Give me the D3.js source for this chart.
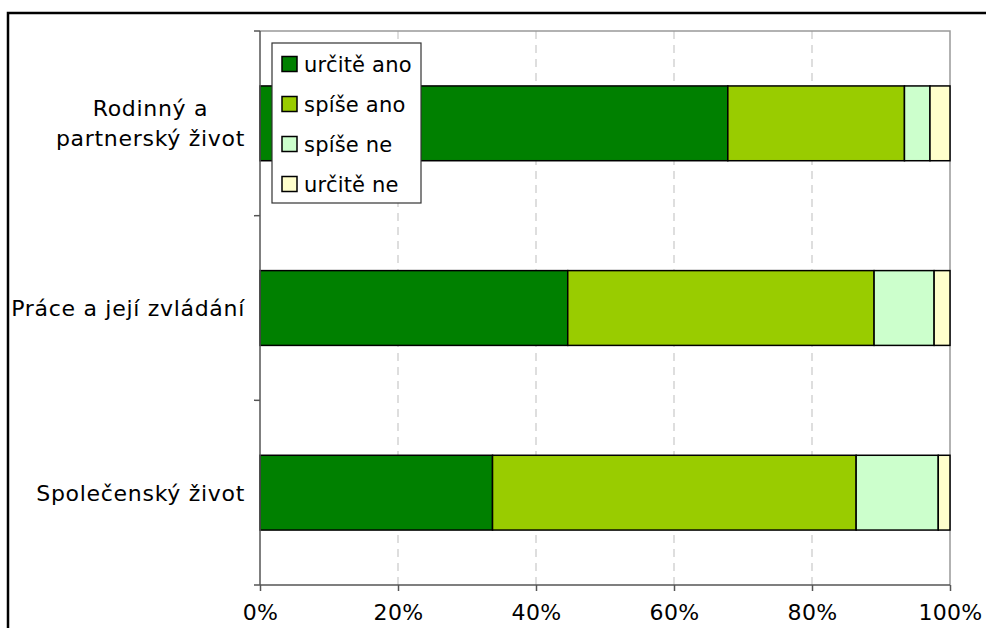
<!DOCTYPE html>
<html>
<head>
<meta charset="utf-8">
<script src="https://cdn.jsdelivr.net/npm/d3@7"></script>
<style>
  html, body { margin: 0; padding: 0; background: #fff; }
  svg { display: block; font-family: "DejaVu Sans", Verdana, sans-serif; }
</style>
</head>
<body>
<svg id="chart" width="986" height="628"></svg>
<script>
// ---- data ----
const categories = [["Rodinný a", "partnerský život"], ["Práce a její zvládání"], ["Společenský život"]];
const seriesNames = ["určitě ano", "spíše ano", "spíše ne", "určitě ne"];
const seriesColors = ["#008000", "#99CC00", "#CCFFCC", "#FFFFCC"];
const urciteAno = [67.8, 44.6, 33.7];
const spiseAno  = [25.6, 44.4, 52.7];
const spiseNe   = [3.7, 8.7, 11.9];
const urciteNe  = [2.9, 2.3, 1.7];
const xTicks = [0, 20, 40, 60, 80, 100];

const seriesValues = [urciteAno, spiseAno, spiseNe, urciteNe];

const svg = d3.select("#chart");
const m = { left: 260, top: 31, right: 950, bottom: 585 };

// frame
svg.append("rect").attr("x", 8).attr("y", 13).attr("width", 1100).attr("height", 800)
  .attr("fill", "none").attr("stroke", "#000").attr("stroke-width", 2.5);

const x = d3.scaleLinear().domain([0, 100]).range([m.left, m.right]);
const y = d3.scaleBand().domain(d3.range(categories.length)).range([m.top, m.bottom])
  .paddingInner(0.595).paddingOuter(0.2975);

// gridlines
svg.append("g").selectAll("line").data(xTicks.filter(t => t > 0 && t < 100)).join("line")
  .attr("x1", d => x(d)).attr("x2", d => x(d)).attr("y1", m.top).attr("y2", m.bottom)
  .attr("stroke", "#c8c8c8").attr("stroke-width", 1.2).attr("stroke-dasharray", "8,6");

// plot border top/right
svg.append("path")
  .attr("d", `M${m.left},${m.top}H${m.right}V${m.bottom}`)
  .attr("fill", "none").attr("stroke", "#999").attr("stroke-width", 1.5);

// stacked bars
const stackData = categories.map((c, i) => {
  const o = { i };
  seriesNames.forEach((s, k) => o[s] = seriesValues[k][i]);
  return o;
});
const stack = d3.stack().keys(seriesNames)(stackData);
stack.forEach((layer, k) => {
  svg.append("g").selectAll("rect").data(layer).join("rect")
    .attr("x", d => x(d[0])).attr("width", d => x(d[1]) - x(d[0]))
    .attr("y", d => y(d.data.i)).attr("height", y.bandwidth())
    .attr("fill", seriesColors[k]).attr("stroke", "#000").attr("stroke-width", 1.5);
});

// axes
const xAxis = d3.axisBottom(x).tickValues(xTicks).tickFormat(d => d + "%").tickSize(6).tickPadding(13);
const gx = svg.append("g").attr("transform", `translate(0,${m.bottom})`).call(xAxis);
gx.select(".domain").attr("stroke", "#555").attr("stroke-width", 1.5).attr("d", `M${m.left},0H${m.right}`);
gx.selectAll(".tick line").attr("stroke", "#555").attr("stroke-width", 1.5);
gx.selectAll(".tick text").attr("fill", "#000").style("font-size", "22px").style("letter-spacing", "0.3px")
  .style("font-family", '"DejaVu Sans", Verdana, sans-serif');

// y axis line + ticks at band boundaries
const yBounds = d3.range(categories.length + 1).map(i => m.top + i * (m.bottom - m.top) / categories.length);
svg.append("line").attr("x1", m.left).attr("x2", m.left).attr("y1", m.top).attr("y2", m.bottom)
  .attr("stroke", "#555").attr("stroke-width", 1.5);
svg.append("g").selectAll("line").data(yBounds).join("line")
  .attr("x1", m.left - 6).attr("x2", m.left).attr("y1", d => d).attr("y2", d => d)
  .attr("stroke", "#555").attr("stroke-width", 1.5);

// category labels
const labelRight = 245;
const lineH = 30;
categories.forEach((lines, i) => {
  const cy = y(i) + y.bandwidth() / 2;
  const g = svg.append("g");
  const texts = lines.map((t, j) => g.append("text").text(t)
    .attr("y", cy + (j - (lines.length - 1) / 2) * lineH).attr("dy", "0.36em")
    .style("font-size", "22px").style("letter-spacing", "0.7px").attr("fill", "#000"));
  const maxW = d3.max(texts, t => t.node().getComputedTextLength());
  texts.forEach(t => t.attr("x", labelRight - maxW / 2).attr("text-anchor", "middle"));
});

// legend
const lg = svg.append("g");
lg.append("rect").attr("x", 272).attr("y", 43).attr("width", 149).attr("height", 160)
  .attr("fill", "#fff").attr("stroke", "#333").attr("stroke-width", 1.2);
seriesNames.forEach((s, k) => {
  const cy = 64 + k * 40;
  lg.append("rect").attr("x", 282).attr("y", cy - 7.5).attr("width", 15).attr("height", 15)
    .attr("fill", seriesColors[k]).attr("stroke", "#000").attr("stroke-width", 1.5);
  lg.append("text").attr("x", 304).attr("y", cy).attr("dy", "0.36em").text(s)
    .style("font-size", "21px").style("letter-spacing", "0.2px").attr("fill", "#000");
});
</script>
</body>
</html>
